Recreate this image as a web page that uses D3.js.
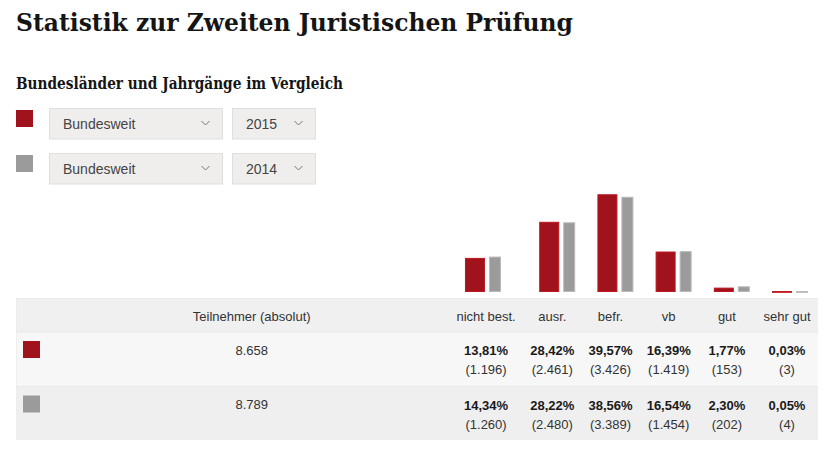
<!DOCTYPE html>
<html><head><meta charset="utf-8">
<script src="https://cdn.jsdelivr.net/npm/d3@7"></script>
<style>body{margin:0;background:#fff;} svg{display:block;}</style>
</head><body>
<svg id="c" width="827" height="454"></svg>
<script>
// ---------- data ----------
const titleText = "Statistik zur Zweiten Juristischen Prüfung";
const subtitleText = "Bundesländer und Jahrgänge im Vergleich";
const categories = ["nicht best.", "ausr.", "befr.", "vb", "gut", "sehr gut"];
const seriesYears = ["2015", "2014"];
const seriesRegions = ["Bundesweit", "Bundesweit"];
const pct2015 = [13.81, 28.42, 39.57, 16.39, 1.77, 0.03];
const pct2014 = [14.34, 28.22, 38.56, 16.54, 2.30, 0.05];
const count2015 = [1196, 2461, 3426, 1419, 153, 3];
const count2014 = [1260, 2480, 3389, 1454, 202, 4];
const participants = [8658, 8789];
const participantsHeader = "Teilnehmer (absolut)";
const seriesColors = ["#a0121c", "#9b9b9b"];

const pctSeries = [pct2015, pct2014];
const countSeries = [count2015, count2014];

// ---------- setup ----------
const svg = d3.select("#c");
const sans = "Arial, 'Liberation Sans', sans-serif";
const serif = "'DejaVu Serif', serif";
const de = d3.formatLocale({decimal: ",", thousands: ".", grouping: [3], currency: ["", " €"]});
const fPct = v => de.format(".2f")(v) + "%";
const fInt = de.format(",d");

// title + subtitle
svg.append("text").attr("x", 16).attr("y", 31)
  .attr("font-family", serif).attr("font-weight", "bold").attr("font-size", 25)
  .attr("fill", "#151515").attr("textLength", 557).attr("lengthAdjust", "spacingAndGlyphs")
  .text(titleText);
svg.append("text").attr("x", 16).attr("y", 89)
  .attr("font-family", serif).attr("font-weight", "bold").attr("font-size", 16)
  .attr("fill", "#151515").attr("textLength", 327).attr("lengthAdjust", "spacingAndGlyphs")
  .text(subtitleText);

// selectors / legend
function chevron(g, cx, cy) {
  g.append("path").attr("d", `M${cx-4},${cy-2}L${cx},${cy+2}L${cx+4},${cy-2}`)
    .attr("fill", "none").attr("stroke", "#777").attr("stroke-width", 1);
}
seriesYears.forEach((yr, i) => {
  const y0 = 108 + i * 45;
  const g = svg.append("g");
  g.append("rect").attr("x", 16).attr("y", y0 + 2).attr("width", 17).attr("height", 17)
    .attr("fill", seriesColors[i]);
  g.append("rect").attr("x", 49.5).attr("y", y0 + 0.5).attr("width", 173).attr("height", 30.5)
    .attr("fill", "#efeeec").attr("stroke", "#dedede");
  g.append("text").attr("x", 63).attr("y", y0 + 20.5).attr("font-family", sans)
    .attr("font-size", 14).attr("fill", "#444").text(seriesRegions[i]);
  chevron(g, 205.5, y0 + 15);
  g.append("rect").attr("x", 232.5).attr("y", y0 + 0.5).attr("width", 83).attr("height", 30.5)
    .attr("fill", "#efeeec").attr("stroke", "#dedede");
  g.append("text").attr("x", 246).attr("y", y0 + 20.5).attr("font-family", sans)
    .attr("font-size", 14).attr("fill", "#444").text(yr);
  chevron(g, 298.5, y0 + 15);
});

// ---------- table layout (measured like an auto table) ----------
const tableLeft = 16.5, tableRight = 818;
const tmp = svg.append("text").attr("font-family", sans).attr("font-size", 13).attr("opacity", 0);
function measure(t, w) { tmp.attr("font-weight", w).text(t); return tmp.node().getComputedTextLength(); }
const colW = categories.map((c, j) => {
  const ws = [measure(c, "normal") + 15];
  pctSeries.forEach(s => ws.push(measure(fPct(s[j]), "bold") + 10));
  countSeries.forEach(s => ws.push(measure("(" + fInt(s[j]) + ")", "normal") + 10));
  return Math.max(58.2, d3.max(ws));
});
tmp.remove();
const colLeft = [];
{ let x = tableRight; for (let j = categories.length - 1; j >= 0; j--) { x -= colW[j]; colLeft[j] = x; } }
const xCol = d3.scaleOrdinal().domain(categories).range(colLeft);
const colCenter = c => xCol(c) + colW[categories.indexOf(c)] / 2;
const partCenter = (tableLeft + 38 + colLeft[0]) / 2;

// ---------- bars ----------
const y = d3.scaleLinear().domain([0, 40]).range([292, 193.2]);
const barOffset = d3.scaleOrdinal().domain(seriesYears).range([16, 40]);
const barWidth = d3.scaleOrdinal().domain(seriesYears).range([20, 12]);
seriesYears.forEach((yr, i) => {
  svg.append("g").selectAll("rect").data(categories.map((c, j) => ({c, v: pctSeries[i][j]})))
    .join("rect")
    .attr("x", d => xCol(d.c) + barOffset(yr) + 0.5)
    .attr("width", barWidth(yr) - 1)
    .attr("y", d => Math.min(y(d.v), y(0) - 1) + 0.5)
    .attr("height", d => Math.max(y(0) - y(d.v), 1) - 1 > 0 ? Math.max(y(0) - y(d.v), 1) - 1 : 0.8)
    .attr("fill", seriesColors[i])
    .attr("stroke", d3.color(seriesColors[i]).brighter(0.5))
    .attr("stroke-width", 1);
});

// ---------- table ----------
const rowTop = [332, 386.5], rowH = [54.5, 53.5];
svg.append("rect").attr("x", tableLeft).attr("y", 298.5).attr("width", tableRight - tableLeft)
  .attr("height", 33.5).attr("fill", "#f0f0f0");
svg.append("rect").attr("x", tableLeft).attr("y", rowTop[0]).attr("width", tableRight - tableLeft)
  .attr("height", rowH[0]).attr("fill", "#f7f7f7");
svg.append("rect").attr("x", tableLeft).attr("y", rowTop[1]).attr("width", tableRight - tableLeft)
  .attr("height", rowH[1]).attr("fill", "#efefef");
[298.5, 332, 386.5].forEach(ly => svg.append("line").attr("x1", tableLeft).attr("x2", tableRight)
  .attr("y1", ly).attr("y2", ly).attr("stroke", "#dcdcdc").attr("stroke-dasharray", "1,1"));
svg.append("line").attr("x1", tableLeft).attr("x2", tableLeft).attr("y1", 298.5).attr("y2", 440)
  .attr("stroke", "#e2e2e2").attr("stroke-dasharray", "1,1");

// header
svg.append("text").attr("x", partCenter).attr("y", 321).attr("text-anchor", "middle")
  .attr("font-family", sans).attr("font-size", 13).attr("fill", "#333").text(participantsHeader);
svg.append("g").selectAll("text").data(categories).join("text")
  .attr("x", d => colCenter(d)).attr("y", 321).attr("text-anchor", "middle")
  .attr("font-family", sans).attr("font-size", 13).attr("fill", "#333").text(d => d);

// rows
seriesYears.forEach((yr, i) => {
  const top = rowTop[i];
  svg.append("rect").attr("x", 23).attr("y", top + 9).attr("width", 17).attr("height", 17)
    .attr("fill", seriesColors[i]);
  svg.append("text").attr("x", partCenter).attr("y", top + 22.5).attr("text-anchor", "middle")
    .attr("font-family", sans).attr("font-size", 13).attr("fill", "#333").text(fInt(participants[i]));
  const g = svg.append("g");
  g.selectAll("text.p").data(categories.map((c, j) => ({c, v: pctSeries[i][j]}))).join("text")
    .attr("class", "p").attr("x", d => colCenter(d.c)).attr("y", top + 23).attr("text-anchor", "middle")
    .attr("font-family", sans).attr("font-size", 13).attr("font-weight", "bold").attr("fill", "#1a1a1a")
    .text(d => fPct(d.v));
  g.selectAll("text.n").data(categories.map((c, j) => ({c, v: countSeries[i][j]}))).join("text")
    .attr("class", "n").attr("x", d => colCenter(d.c)).attr("y", top + 42).attr("text-anchor", "middle")
    .attr("font-family", sans).attr("font-size", 13).attr("fill", "#333")
    .text(d => "(" + fInt(d.v) + ")");
});
</script>
</body></html>
